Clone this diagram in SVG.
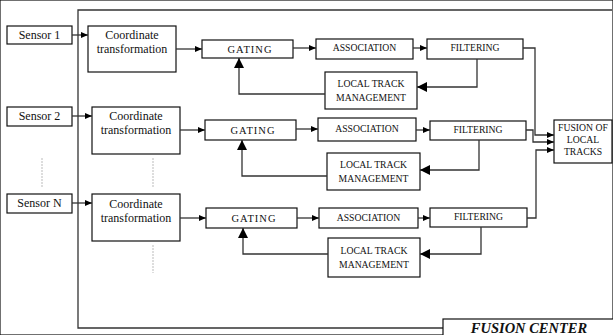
<svg xmlns="http://www.w3.org/2000/svg" width="613" height="335" viewBox="0 0 613 335" font-family="'Liberation Serif', 'Times New Roman', 'DejaVu Serif', serif">
<defs>
<marker id="a" markerWidth="7" markerHeight="6" refX="7" refY="3" orient="auto" markerUnits="userSpaceOnUse"><path d="M0,0 L7,3 L0,6 Z" fill="#000"/></marker>
<marker id="b" markerWidth="10" markerHeight="10" refX="10" refY="5" orient="auto" markerUnits="userSpaceOnUse"><path d="M0,0 L10,5 L0,10 Z" fill="#000"/></marker>
</defs>
<style>
rect{fill:#fff;stroke:#111;stroke-width:1.2}
.l{fill:none;stroke:#333;stroke-width:1.3}
.d{fill:none;stroke:#bbb;stroke-width:1;stroke-dasharray:2 1}
text{font-family:'Liberation Serif','Times New Roman','DejaVu Serif',serif;fill:#111;text-anchor:middle}
.s{font-size:12px}
.c{font-size:12px}
.u{font-size:9.7px}
.g{font-size:10.5px;letter-spacing:1px}
</style>
<rect width="613" height="335" fill="#fff" stroke="none"/>
<g id="frame">
<path class="l" d="M612,10 L78,10 L78,328 L443,328"/>
</g>
<g id="fusion-center"><rect x="443" y="319" width="175" height="20"/><text x="529" y="332.5" style="font-size:14.5px;font-weight:bold;font-style:italic">FUSION CENTER</text></g>
<g id="sensor1"><rect x="7" y="26" width="65" height="18"/><text class="s" x="39.5" y="39">Sensor 1</text></g>
<g id="sensor2"><rect x="7" y="107" width="65" height="19"/><text class="s" x="39.5" y="120">Sensor 2</text></g>
<g id="sensorN"><rect x="7" y="194" width="65" height="19"/><text class="s" x="39.5" y="207">Sensor N</text></g>
<g id="ct1"><rect x="88" y="26" width="88" height="46"/><text class="c" x="132" y="39">Coordinate</text><text class="c" x="132" y="53">transformation</text></g>
<g id="ct2"><rect x="92" y="107" width="88" height="47"/><text class="c" x="136" y="120">Coordinate</text><text class="c" x="136" y="134">transformation</text></g>
<g id="ctN"><rect x="92" y="194" width="88" height="47"/><text class="c" x="136" y="208">Coordinate</text><text class="c" x="136" y="222">transformation</text></g>
<g id="gating1"><rect x="202" y="40" width="91" height="18"/><text class="g" x="250" y="52.5">GATING</text></g>
<g id="assoc1"><rect x="316" y="39" width="97" height="20"/><text class="u" x="364.5" y="51">ASSOCIATION</text></g>
<g id="filter1"><rect x="427" y="39" width="96" height="20"/><text class="u" x="475" y="51">FILTERING</text></g>
<g id="ltm1"><rect x="325" y="72" width="92" height="37"/><text class="u" x="371" y="87">LOCAL TRACK</text><text class="u" x="371" y="101">MANAGEMENT</text></g>
<g id="gating2"><rect x="205" y="120" width="91" height="20"/><text class="g" x="253" y="133.5">GATING</text></g>
<g id="assoc2"><rect x="318" y="118" width="98" height="23"/><text class="u" x="367" y="132">ASSOCIATION</text></g>
<g id="filter2"><rect x="430" y="121" width="96" height="19"/><text class="u" x="478" y="133">FILTERING</text></g>
<g id="ltm2"><rect x="327" y="153" width="93" height="37"/><text class="u" x="373.5" y="168">LOCAL TRACK</text><text class="u" x="373.5" y="182">MANAGEMENT</text></g>
<g id="gating3"><rect x="206" y="208" width="91" height="20"/><text class="g" x="254" y="221.5">GATING</text></g>
<g id="assoc3"><rect x="319" y="208" width="99" height="20"/><text class="u" x="368.5" y="221">ASSOCIATION</text></g>
<g id="filter3"><rect x="430" y="208" width="97" height="19"/><text class="u" x="478.5" y="220">FILTERING</text></g>
<g id="ltm3"><rect x="328" y="238" width="92" height="39"/><text class="u" x="374" y="254">LOCAL TRACK</text><text class="u" x="374" y="268">MANAGEMENT</text></g>
<g id="fusion"><rect x="554" y="120" width="58" height="43"/><text class="u" x="583" y="131">FUSION OF</text><text class="u" x="583" y="143">LOCAL</text><text class="u" x="583" y="155">TRACKS</text></g>
<g id="connectors">
<path class="l" d="M72,35 L88,35" marker-end="url(#a)"/>
<path class="l" d="M72,116 L92,116" marker-end="url(#a)"/>
<path class="l" d="M72,203 L92,203" marker-end="url(#a)"/>
<path class="l" d="M176,49 L202,49" marker-end="url(#a)"/>
<path class="l" d="M180,130 L205,130" marker-end="url(#a)"/>
<path class="l" d="M180,218 L206,218" marker-end="url(#a)"/>
<path class="l" d="M293,48 L316,48" marker-end="url(#a)"/>
<path class="l" d="M413,48 L427,48" marker-end="url(#a)"/>
<path class="l" d="M296,129 L318,129" marker-end="url(#a)"/>
<path class="l" d="M416,130 L430,130" marker-end="url(#a)"/>
<path class="l" d="M297,218 L319,218" marker-end="url(#a)"/>
<path class="l" d="M418,218 L430,218" marker-end="url(#a)"/>
<path class="l" d="M477,59 L477,87 L417,87" marker-end="url(#b)"/>
<path class="l" d="M325,94 L239,94 L239,58" marker-end="url(#b)"/>
<path class="l" d="M479,140 L479,170 L420,170" marker-end="url(#b)"/>
<path class="l" d="M327,176 L242,176 L242,140" marker-end="url(#b)"/>
<path class="l" d="M481,227 L481,254 L420,254" marker-end="url(#b)"/>
<path class="l" d="M328,254 L243,254 L243,228" marker-end="url(#b)"/>
<path class="l" d="M523,48 L535,48 L535,135 L554,135" marker-end="url(#a)"/>
<path class="l" d="M526,130 L533,130 L533,142 L554,142" marker-end="url(#a)"/>
<path class="l" d="M527,218 L536,218 L536,150 L554,150" marker-end="url(#a)"/>
<path class="d" d="M42,158 L42,187"/>
<path class="d" d="M153,158 L153,187"/>
<path class="d" d="M153,245 L153,273"/>
</g>
</svg>
